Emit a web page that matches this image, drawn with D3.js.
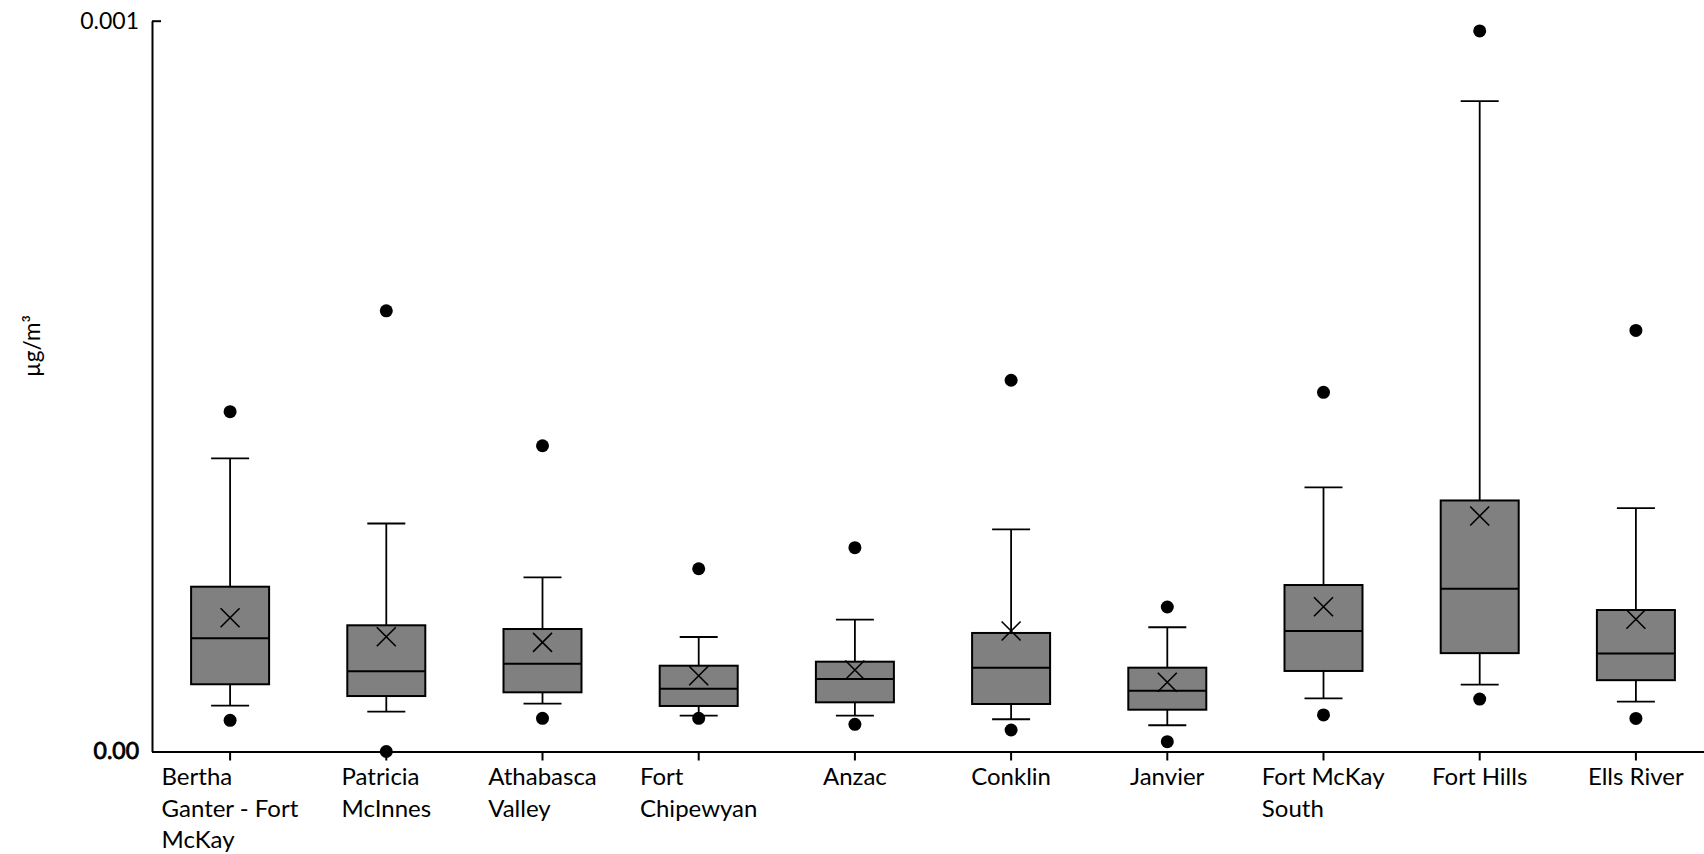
<!DOCTYPE html>
<html>
<head>
<meta charset="utf-8">
<script src="https://cdn.jsdelivr.net/npm/d3@7/dist/d3.min.js"></script>
<style>
  html, body { margin: 0; padding: 0; background: #fff; }
  svg { display: block; }
  text { font-family: Lato, "Open Sans", "Liberation Sans", sans-serif; fill: #000; }
</style>
</head>
<body>
<svg id="chart" width="1704" height="854"></svg>
<script>
// ---- data (µg/m³) ----
const categories = ["Bertha Ganter - Fort McKay", "Patricia McInnes", "Athabasca Valley", "Fort Chipewyan", "Anzac", "Conklin", "Janvier", "Fort McKay South", "Fort Hills", "Ells River"];
const categoryLines = [["Bertha", "Ganter - Fort", "McKay"], ["Patricia", "McInnes"], ["Athabasca", "Valley"], ["Fort", "Chipewyan"], ["Anzac"], ["Conklin"], ["Janvier"], ["Fort McKay", "South"], ["Fort Hills"], ["Ells River"]];
const whiskerLow  = [0.0000627, 0.0000545, 0.0000654, 0.0000490, 0.0000490, 0.0000441, 0.0000359, 0.0000728, 0.0000915, 0.0000683];
const q1          = [0.0000920, 0.0000759, 0.0000810, 0.0000623, 0.0000673, 0.0000650, 0.0000572, 0.0001102, 0.0001346, 0.0000976];
const median      = [0.0001550, 0.0001097, 0.0001201, 0.0000859, 0.0000992, 0.0001147, 0.0000832, 0.0001649, 0.0002228, 0.0001340];
const q3          = [0.0002255, 0.0001727, 0.0001676, 0.0001174, 0.0001229, 0.0001622, 0.0001147, 0.0002278, 0.0003435, 0.0001936];
const whiskerHigh = [0.0004010, 0.0003120, 0.0002384, 0.0001567, 0.0001804, 0.0003040, 0.0001700, 0.0003615, 0.0008900, 0.0003329];
const mean        = [0.0001830, 0.0001571, 0.0001494, 0.0001037, 0.0001115, 0.0001649, 0.0000947, 0.0001981, 0.0003222, 0.0001810];
const outliers    = [[0.0000427, 0.000465], [0, 0.000603], [0.0000454, 0.0004184], [0.0000454, 0.0002501], [0.0000372, 0.0002789], [0.0000294, 0.000508], [0.0000134, 0.0001977], [0.0000500, 0.0004915], [0.0000717, 0.000986], [0.0000452, 0.0005762]];
const yTickValues = [0, 0.001];
const yTickLabels = ["0.00", "0.001"];
const yTitle = "µg/m³";

// ---- layout ----
const svg = d3.select("#chart");
const x = d3.scaleBand().domain(categories).range([152, 1714]).padding(0);
const y = d3.scaleLinear().domain([0, 0.001]).range([751.5, 20.7]);
const cx = c => x(c) + x.bandwidth() / 2;
const boxW = 78, capW = 38;

const rows = categories.map((c, i) => ({
  c, lo: whiskerLow[i], q1: q1[i], med: median[i], q3: q3[i], hi: whiskerHigh[i], mean: mean[i], out: outliers[i]
}));

// y axis
const yAxis = d3.axisLeft(y).tickValues(yTickValues).tickFormat((d, i) => yTickLabels[i])
  .tickSizeInner(-9).tickSizeOuter(0).tickPadding(13);
const gy = svg.append("g").attr("transform", "translate(152,0)").call(yAxis);
gy.select(".domain").attr("stroke", "#000").attr("stroke-width", 2);
gy.selectAll(".tick line").attr("stroke", "#000").attr("stroke-width", 2);
gy.selectAll(".tick text").attr("font-size", 23).attr("font-family", "Lato, sans-serif")
  .attr("stroke", (d, i) => i === 0 ? "#000" : "none").attr("stroke-width", 0.8);

// x axis
const xAxis = d3.axisBottom(x).tickSizeInner(9).tickSizeOuter(0).tickFormat("");
const gx = svg.append("g").attr("transform", "translate(0,751.5)").call(xAxis);
gx.select(".domain").attr("stroke", "#000").attr("stroke-width", 2);
gx.selectAll(".tick line").attr("stroke", "#000").attr("stroke-width", 2);
gx.selectAll(".tick text").remove();

// wrapped category labels, left-aligned lines in a centred block
const labelG = svg.append("g");
categories.forEach((c, i) => {
  const t = labelG.append("text").attr("font-size", 24).attr("x", 0).attr("y", 0);
  categoryLines[i].forEach((ln, j) => {
    t.append("tspan").attr("x", 0).attr("y", 785 + j * 31.5).text(ln);
  });
  const w = t.node().getBBox().width;
  t.attr("transform", `translate(${cx(c) - w / 2},0)`);
});

// y title
svg.append("text").attr("transform", "translate(40,346) rotate(-90)")
  .attr("text-anchor", "middle").attr("font-size", 22.5).text(yTitle);

// boxes
const g = svg.append("g");
const box = g.selectAll("g.box").data(rows).join("g").attr("class", "box");

// whiskers
box.append("line").attr("x1", d => cx(d.c)).attr("x2", d => cx(d.c))
  .attr("y1", d => y(d.q3)).attr("y2", d => y(d.hi)).attr("stroke", "#000").attr("stroke-width", 1.8);
box.append("line").attr("x1", d => cx(d.c)).attr("x2", d => cx(d.c))
  .attr("y1", d => y(d.q1)).attr("y2", d => y(d.lo)).attr("stroke", "#000").attr("stroke-width", 1.8);
box.append("line").attr("x1", d => cx(d.c) - capW / 2).attr("x2", d => cx(d.c) + capW / 2)
  .attr("y1", d => y(d.hi)).attr("y2", d => y(d.hi)).attr("stroke", "#000").attr("stroke-width", 1.8);
box.append("line").attr("x1", d => cx(d.c) - capW / 2).attr("x2", d => cx(d.c) + capW / 2)
  .attr("y1", d => y(d.lo)).attr("y2", d => y(d.lo)).attr("stroke", "#000").attr("stroke-width", 1.8);

// box
box.append("rect").attr("x", d => cx(d.c) - boxW / 2).attr("width", boxW)
  .attr("y", d => y(d.q3)).attr("height", d => y(d.q1) - y(d.q3))
  .attr("fill", "#808080").attr("stroke", "#000").attr("stroke-width", 2);
// median
box.append("line").attr("x1", d => cx(d.c) - boxW / 2).attr("x2", d => cx(d.c) + boxW / 2)
  .attr("y1", d => y(d.med)).attr("y2", d => y(d.med)).attr("stroke", "#000").attr("stroke-width", 2);
// mean marker (X)
const mk = 9.5;
box.append("path").attr("d", d => {
  const px = cx(d.c), py = y(d.mean);
  return `M${px - mk},${py - mk}L${px + mk},${py + mk}M${px - mk},${py + mk}L${px + mk},${py - mk}`;
}).attr("stroke", "#000").attr("stroke-width", 1.6).attr("fill", "none");

// outliers
box.selectAll("circle").data(d => d.out.map(v => ({ c: d.c, v }))).join("circle")
  .attr("cx", d => cx(d.c)).attr("cy", d => y(d.v)).attr("r", 6.5).attr("fill", "#000");
</script>
</body>
</html>
